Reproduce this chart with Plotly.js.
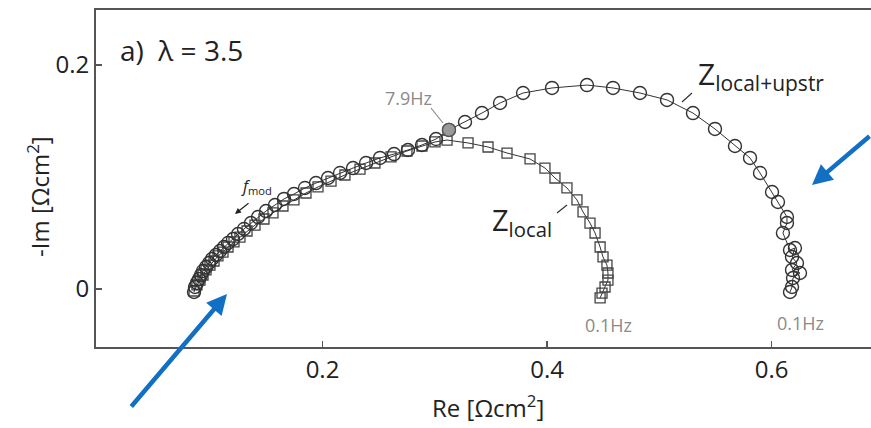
<!DOCTYPE html>
<html>
<head>
<meta charset="utf-8">
<script src="https://cdn.plot.ly/plotly-3.0.1.min.js"></script>
<style>html,body{margin:0;padding:0;background:#fff;overflow:hidden}#chart{width:871px;height:428px}</style>
</head>
<body>
<div id="chart"></div>
<script>
// ---- data (Re, -Im in Ohm cm^2) ----
const circX = [0.0856,0.0865,0.0882,0.0900,0.0918,0.0936,0.0963,0.0990,0.1016,0.1052,0.1087,0.1123,0.1159,0.1203,0.1248,0.1301,0.1363,0.1426,0.1497,0.1577,0.1657,0.1746,0.1844,0.1942,0.2049,0.2156,0.2272,0.2388,0.2512,0.2637,0.2761,0.2886,0.3011,0.3126,0.3269,0.3420,0.3581,0.3786,0.4044,0.4355,0.4587,0.4827,0.5068,0.5299,0.5495,0.5673,0.5807,0.5896,0.6003,0.6056,0.6136,0.6136,0.6100,0.6163,0.6207,0.6181,0.6225,0.6181,0.6252,0.6190,0.6181,0.6163];
const circY = [-0.0027,0.0018,0.0054,0.0089,0.0125,0.0161,0.0196,0.0232,0.0268,0.0304,0.0339,0.0375,0.0411,0.0446,0.0491,0.0536,0.0589,0.0643,0.0696,0.0750,0.0804,0.0848,0.0902,0.0946,0.0991,0.1036,0.1080,0.1125,0.1170,0.1205,0.1241,0.1286,0.1339,0.1420,0.1491,0.1571,0.1661,0.1750,0.1795,0.1821,0.1795,0.1750,0.1688,0.1571,0.1429,0.1277,0.1170,0.1036,0.0866,0.0777,0.0643,0.0589,0.0500,0.0348,0.0366,0.0286,0.0232,0.0170,0.0143,0.0098,0.0018,-0.0027];
const sqX = [0.0856,0.0882,0.0909,0.0936,0.0963,0.0998,0.1034,0.1069,0.1114,0.1159,0.1212,0.1265,0.1328,0.1399,0.1479,0.1559,0.1648,0.1746,0.1853,0.1960,0.2076,0.2200,0.2334,0.2467,0.2610,0.2752,0.2886,0.3002,0.3109,0.3296,0.3474,0.3643,0.3848,0.3981,0.4070,0.4177,0.4266,0.4320,0.4382,0.4427,0.4472,0.4498,0.4533,0.4542,0.4542,0.4516,0.4489,0.4472];
const sqY = [-0.0018,0.0036,0.0080,0.0125,0.0170,0.0214,0.0250,0.0295,0.0330,0.0375,0.0420,0.0464,0.0518,0.0571,0.0625,0.0679,0.0741,0.0795,0.0857,0.0911,0.0964,0.1018,0.1071,0.1125,0.1179,0.1232,0.1277,0.1313,0.1330,0.1304,0.1268,0.1214,0.1161,0.1080,0.0991,0.0902,0.0795,0.0688,0.0589,0.0500,0.0375,0.0286,0.0214,0.0143,0.0080,0.0018,-0.0036,-0.0080];
const markX = [0.3126];   // 7.9 Hz point
const markY = [0.1420];
const xTickVals = [0.2, 0.4, 0.6];
const xTickText = ["0.2", "0.4", "0.6"];
const yTickVals = [0, 0.2];
const yTickText = ["0", "0.2"];

// ---- layout helpers (pixel -> paper) ----
const L = 96, T = 10, W = 775, H = 337;
const px = v => (v - L) / W;
const py = v => (T + H - v) / H;
const FONT = "Open Sans, sans-serif";
const DARK = "#222", GRAY = "#8a8a8a", BLUE = "#1170c4";

const traces = [
  {x: sqX, y: sqY, mode: "lines+markers", type: "scatter",
   line: {color: "#333", width: 1},
   marker: {symbol: "square-open", size: 10, color: "#444", line: {width: 1.3}}},
  {x: circX, y: circY, mode: "lines+markers", type: "scatter",
   line: {color: "#333", width: 1},
   marker: {symbol: "circle-open", size: 13, color: "#333", line: {width: 1.4}}},
  {x: markX, y: markY, mode: "markers", type: "scatter",
   marker: {symbol: "circle", size: 13, color: "#9a9a9a", line: {color: "#555", width: 1.3}}}
];

function txt(text, x, y, size, color, xa) {
  return {text, x: px(x), y: py(y), xref: "paper", yref: "paper", showarrow: false,
          xanchor: xa || "center", yanchor: "middle", font: {family: FONT, size, color}};
}
function arrow(tx, ty, ax, ay, color, width, size) {
  return {text: "", x: px(tx), y: py(ty), xref: "paper", yref: "paper", showarrow: true,
          ax: ax - tx, ay: ay - ty, axref: "pixel", ayref: "pixel",
          arrowhead: 2, arrowsize: size, arrowwidth: width, arrowcolor: color};
}
function seg(x0, y0, x1, y1, color) {
  return {type: "line", xref: "paper", yref: "paper", x0: px(x0), y0: py(y0), x1: px(x1), y1: py(y1),
          line: {color, width: 1.2}};
}

const layout = {
  width: 871, height: 428,
  margin: {l: L, r: 871 - L - W, t: T, b: 428 - T - H, pad: 0},
  paper_bgcolor: "#fff", plot_bgcolor: "#fff",
  showlegend: false,
  font: {family: FONT, color: DARK},
  xaxis: {range: [-0.00169, 0.68843], showgrid: false, zeroline: false,
          showline: true, mirror: true, linecolor: "#555", linewidth: 2,
          ticks: "inside", ticklen: 6, tickwidth: 1.5, tickcolor: "#555",
          tickvals: xTickVals, ticktext: xTickText,
          tickfont: {family: FONT, size: 24, color: DARK}},
  yaxis: {range: [-0.05179, 0.24911], showgrid: false, zeroline: false,
          showline: true, mirror: false, linecolor: "#555", linewidth: 2,
          ticks: "inside", ticklen: 6, tickwidth: 1.5, tickcolor: "#555",
          tickvals: yTickVals, ticktext: yTickText,
          tickfont: {family: FONT, size: 24, color: DARK}},
  annotations: [
    txt("Re [Ωcm<sup>2</sup>]", 488, 406, 24, DARK),
    Object.assign(txt("-Im [Ωcm<sup>2</sup>]", 38, 196, 24, DARK), {textangle: -90}),
    txt("a)  λ = 3.5", 118, 50, 28, DARK, "left"),
    txt("7.9Hz", 408, 98, 18, GRAY),
    txt("<i>f</i><sub>mod</sub>", 256, 186, 16, DARK),
    txt("Z<sub>local</sub>", 522, 221, 29, DARK),
    txt("Z<sub>local+upstr</sub>", 761, 75, 30, DARK),
    txt("0.1Hz", 608, 325, 18, GRAY),
    txt("0.1Hz", 800, 323, 18, GRAY),
    arrow(235, 214, 250, 202, "#222", 1.2, 1),
    arrow(227, 294, 130, 408, BLUE, 4.5, 0.9),
    arrow(812, 185, 885, 135, BLUE, 4.5, 0.9)
  ],
  shapes: [
    seg(431, 108, 443, 123, GRAY),
    seg(557, 213, 567, 205, "#333"),
    seg(682, 102, 692, 93, "#333")
  ]
};

Plotly.newPlot("chart", traces, layout, {displayModeBar: false, staticPlot: true});
</script>
</body>
</html>
